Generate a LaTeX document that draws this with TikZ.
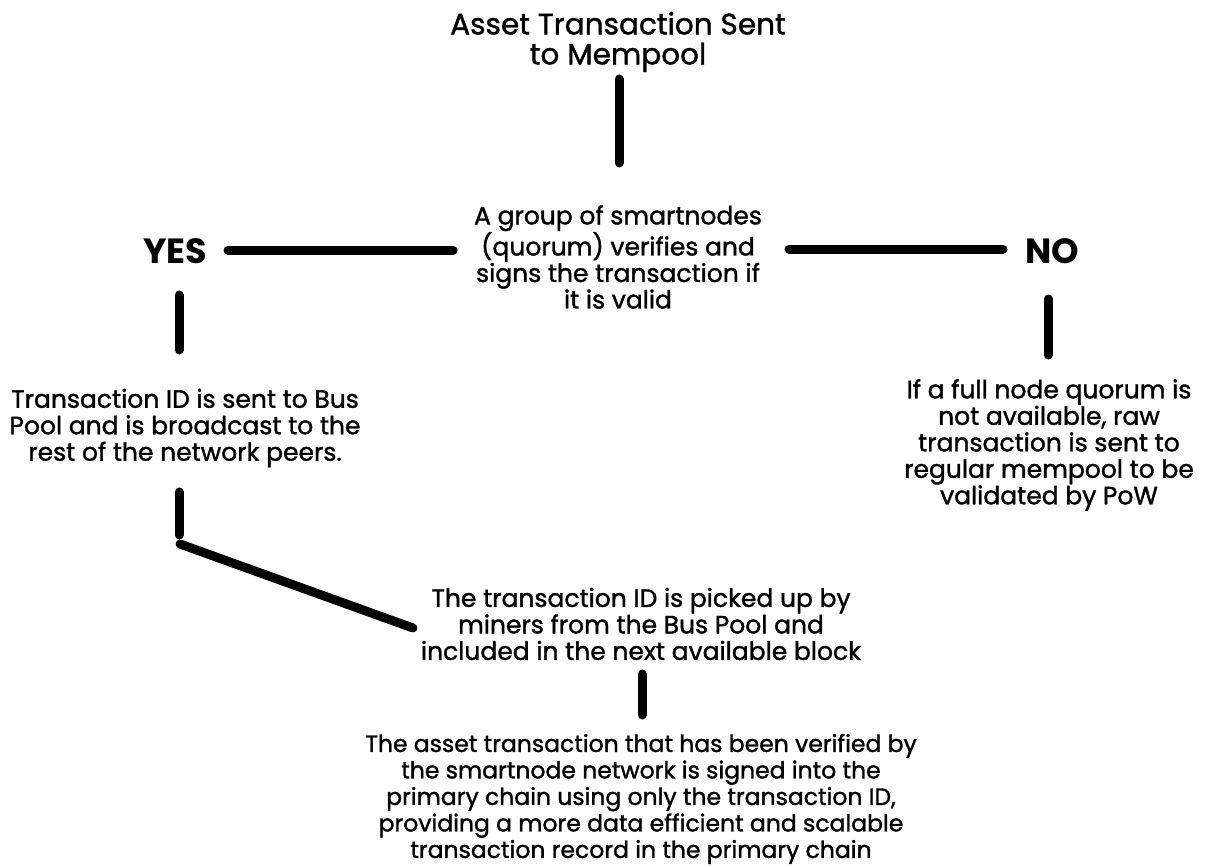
\documentclass[tikz,border=0pt]{standalone}
\usepackage{fontspec}
\setmainfont{Poppins}
\newfontfamily\medfont{Poppins}[FakeBold=1.3]
\begin{document}
\begin{tikzpicture}[x=1pt,y=-1pt,
  body/.style={align=center,inner sep=0pt,font=\medfont\fontsize{25}{26.5}\selectfont},
  small/.style={align=center,inner sep=0pt,font=\medfont\fontsize{23.5}{26.5}\selectfont},
  titlet/.style={align=center,inner sep=0pt,font=\medfont\fontsize{29.5}{30}\selectfont},
  yn/.style={inner sep=0pt,font=\fontsize{35}{36}\selectfont\bfseries},
  bar/.style={line width=9pt,line cap=round}]
\useasboundingbox[fill=white] (0,0) rectangle (1207,867);
\node[titlet] (title) at (618,42) {Asset Transaction Sent\\to Mempool};
\node[body] (quorum) at (618,257) {A group of smartnodes\\(quorum) verifies and\\signs the transaction if\\it is valid};
\node[yn] (yes) at (175,251) {YES};
\node[yn] (no) at (1052,251) {NO};
\node[body] (bus) at (185,428) {Transaction ID is sent to Bus\\Pool and is broadcast to the\\rest of the network peers.};
\node[body] (raw) at (1049,445) {If a full node quorum is\\not available, raw\\transaction is sent to\\regular mempool to be\\validated by PoW};
\node[body] (miners) at (641,624) {The transaction ID is picked up by\\miners from the Bus Pool and\\included in the next available block};
\node[small] (final) at (641,799) {The asset transaction that has been verified by\\the smartnode network is signed into the\\primary chain using only the transaction ID,\\providing a more data efficient and scalable\\transaction record in the primary chain};
\coordinate (a1) at (619,79); \coordinate (a2) at (619,163);
\coordinate (b1) at (228,250); \coordinate (b2) at (453,250);
\coordinate (c1) at (789,249); \coordinate (c2) at (1003,249);
\coordinate (d1) at (179,295); \coordinate (d2) at (179,350);
\coordinate (e1) at (1048,299); \coordinate (e2) at (1048,355);
\coordinate (f1) at (179,492); \coordinate (f2) at (179,535);
\coordinate (g1) at (180,544); \coordinate (g2) at (413,628);
\coordinate (h1) at (642,674); \coordinate (h2) at (642,715);
\draw[bar] (a1) -- (a2);
\draw[bar] (b1) -- (b2);
\draw[bar] (c1) -- (c2);
\draw[bar] (d1) -- (d2);
\draw[bar] (e1) -- (e2);
\draw[bar] (f1) -- (f2);
\draw[bar] (g1) -- (g2);
\draw[bar] (h1) -- (h2);
\end{tikzpicture}
\end{document}
